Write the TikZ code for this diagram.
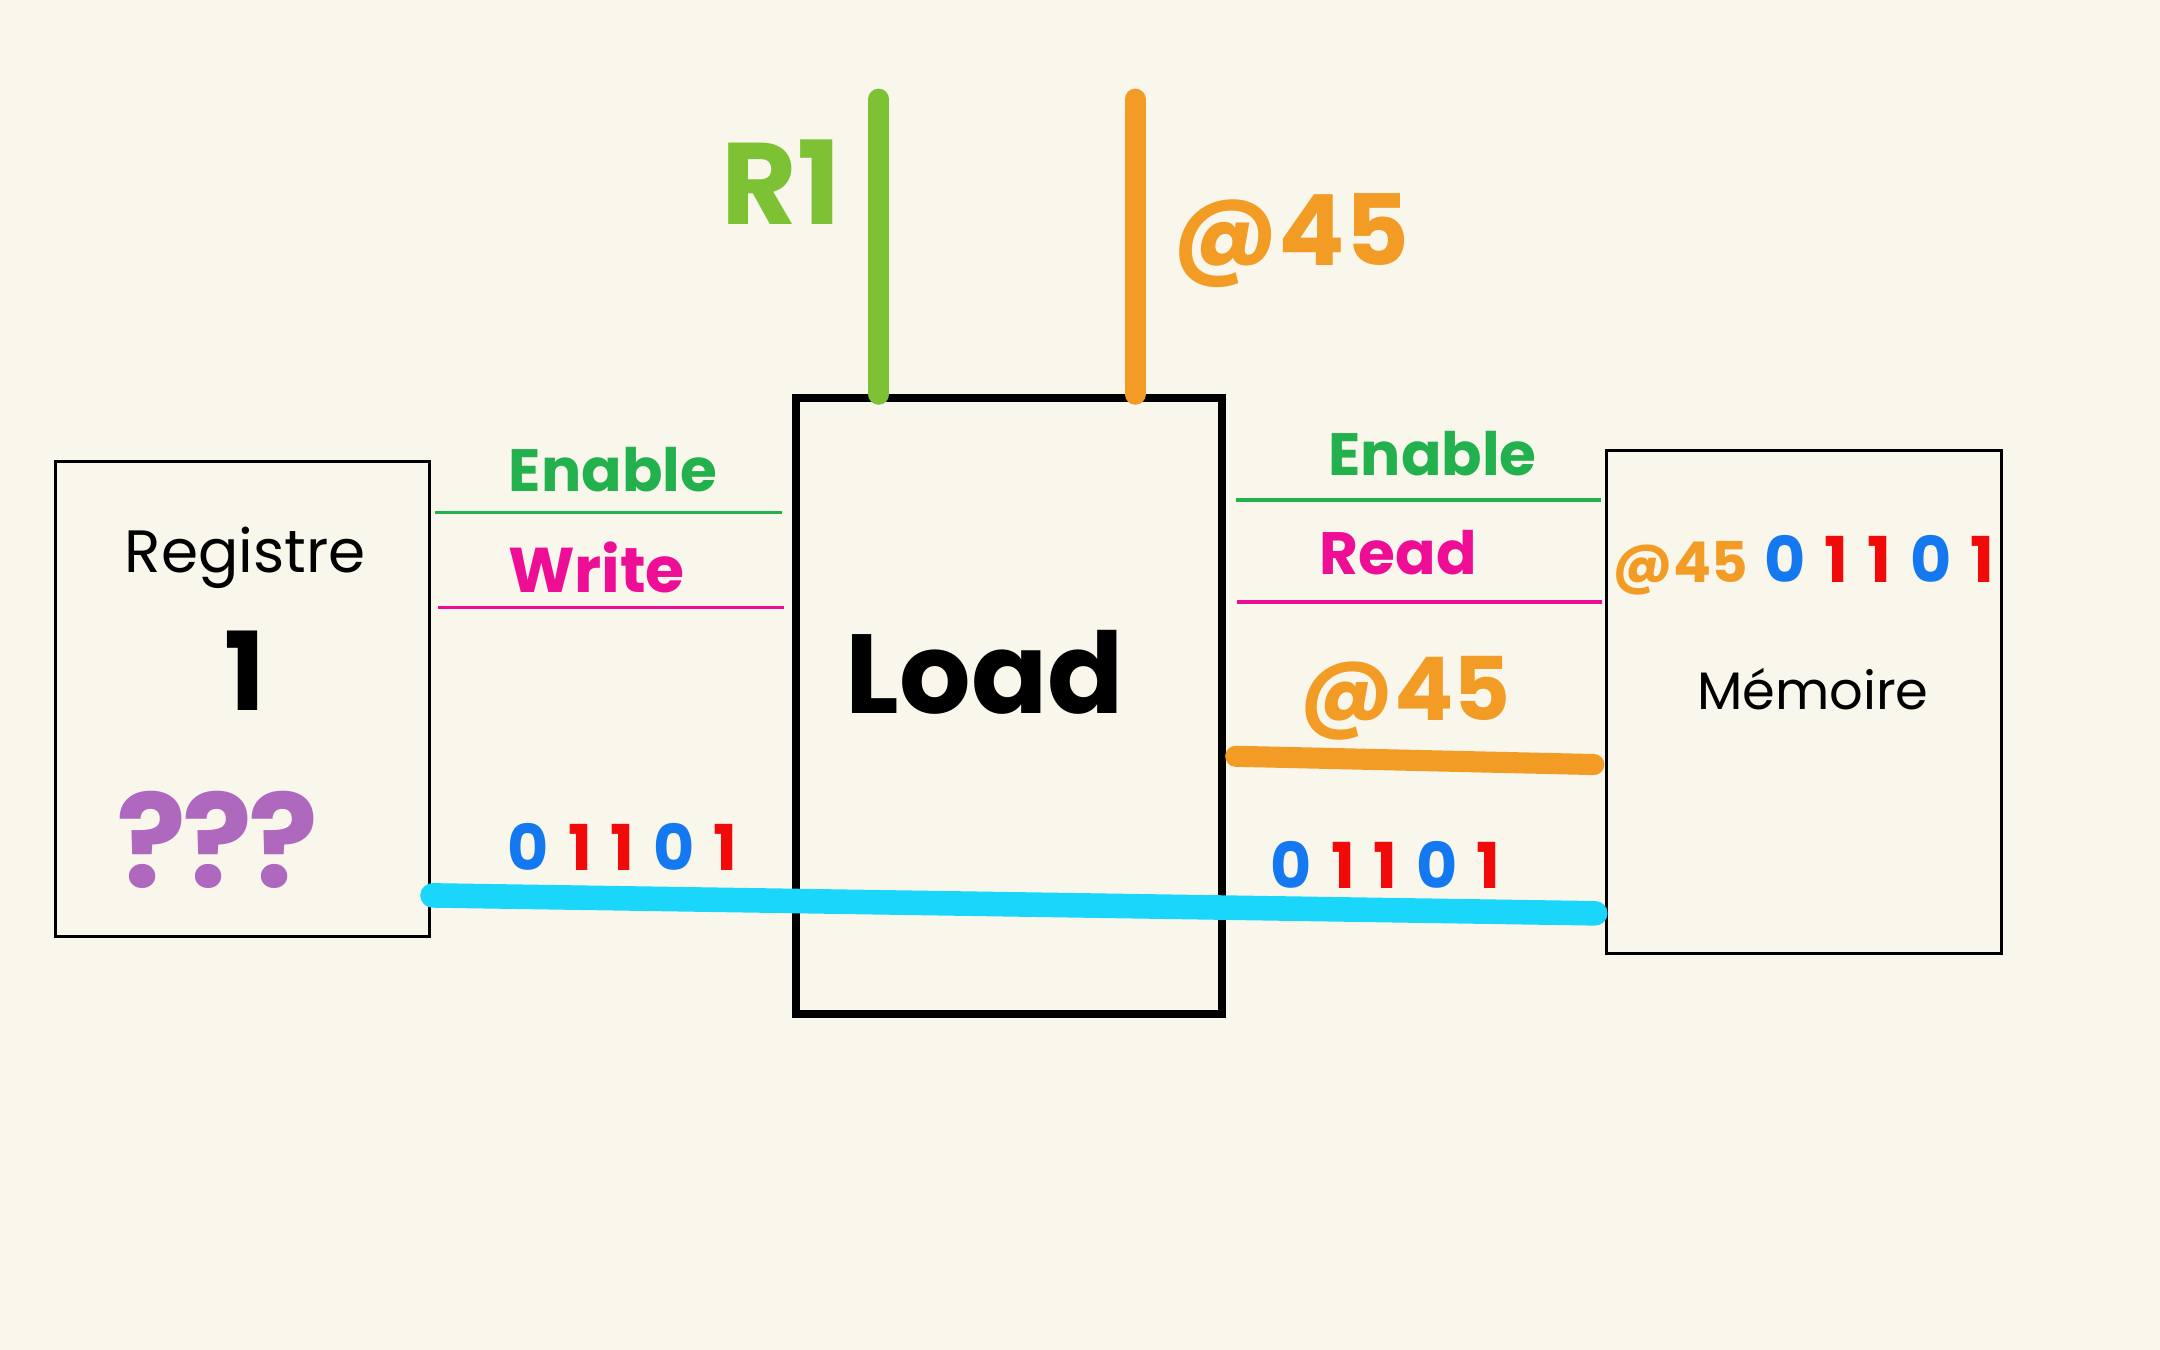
\documentclass[tikz,border=0pt]{standalone}
\usepackage{fontspec}
\setmainfont{Poppins}
\definecolor{bg}{HTML}{F9F7EC}
\definecolor{engreen}{HTML}{22B14C}
\definecolor{rgreen}{HTML}{7DC234}
\definecolor{orng}{HTML}{F29C26}
\definecolor{magn}{HTML}{EE0E95}
\definecolor{cyanl}{HTML}{1AD6FA}
\definecolor{bitblue}{HTML}{1479F0}
\definecolor{bitred}{HTML}{F20A0A}
\definecolor{purp}{HTML}{AE68BE}
\newcommand{\bits}{{\color{bitblue}0}\kern0.3em{\color{bitred}1}\kern0.3em{\color{bitred}1}\kern0.3em{\color{bitblue}0}\kern0.3em{\color{bitred}1}}
\begin{document}
\begin{tikzpicture}[x=0.013776cm,y=-0.013776cm,
  boxthin/.style={draw=black,line width=0.9pt},
  boxthick/.style={draw=black,line width=2.2pt},
  lbl/.style={inner sep=0pt,anchor=center},
  wire/.style={line width=1.1pt},
  bus/.style={line width=6pt,line cap=round}]
\fill[bg] (0,0) rectangle (1568,980);
\useasboundingbox (0,0) rectangle (1568,980);
% boxes
\node[boxthin,minimum width=272*0.013776cm,minimum height=345*0.013776cm,inner sep=0pt] (reg) at (176,507.5) {};
\node[boxthick,minimum width=309*0.013776cm,minimum height=447*0.013776cm,inner sep=0pt] (load) at (732.5,512.5) {};
\node[boxthin,minimum width=287*0.013776cm,minimum height=365*0.013776cm,inner sep=0pt] (mem) at (1309.5,509.5) {};
% box texts
\node[lbl,font=\fontsize{17}{20}\selectfont] (tReg) at (178,405) {Registre};
\node[lbl,font=\fontsize{31}{40}\selectfont\bfseries] (tOne) at (178,487) {1};
\node[lbl,font=\fontsize{37}{44}\selectfont\bfseries,text=purp] (tQ) at (158,610) {?\kern-0.03em?\kern-0.03em?};
\node[lbl,font=\fontsize{32}{38}\selectfont\bfseries] (tLoad) at (715,488) {Load};
\node[lbl,font=\fontsize{15}{18}\selectfont] (tMem) at (1316,500) {Mémoire};
\node[lbl,font=\fontsize{16}{20}\selectfont\bfseries] (tMemBits) at (1309,410) {{\color{orng}@45}\kern0.3em{\fontsize{18}{20}\selectfont\bits}};
% top buses
\coordinate (gTop) at (638,72);
\coordinate (oTop) at (824,72);
\draw[bus,rgreen] (gTop) -- (gTop |- load.north);
\draw[bus,orng] (oTop) -- (oTop |- load.north);
\node[lbl,font=\fontsize{33}{38}\selectfont\bfseries,text=rgreen] (tR1) at (567,132) {R1};
\node[lbl,font=\fontsize{28}{34}\selectfont\bfseries,text=orng] (tA1) at (937,175) {@45};
% left signals
\coordinate (lEnA) at (316,372); \coordinate (lEnB) at (568,372);
\coordinate (lWrA) at (318,441); \coordinate (lWrB) at (569,441);
\draw[wire,engreen] (lEnA) -- (lEnB);
\draw[wire,magn] (lWrA) -- (lWrB);
\node[lbl,font=\fontsize{17}{22}\selectfont\bfseries,text=engreen] (tEnL) at (445,341) {Enable};
\node[lbl,font=\fontsize{18}{22}\selectfont\bfseries,text=magn] (tWr) at (433,412) {Write};
\node[lbl,font=\fontsize{18}{24}\selectfont\bfseries] (tBitsL) at (452,615) {\bits};
% right signals
\coordinate (rEnA) at (897,363); \coordinate (rEnB) at (1162,363);
\coordinate (rRdA) at (898,437); \coordinate (rRdB) at (1163,437);
\draw[wire,engreen] (rEnA) -- (rEnB);
\draw[wire,magn] (rRdA) -- (rRdB);
\node[lbl,font=\fontsize{17}{22}\selectfont\bfseries,text=engreen] (tEnR) at (1040,329) {Enable};
\node[lbl,font=\fontsize{17}{22}\selectfont\bfseries,text=magn] (tRd) at (1015,401) {Read};
\node[lbl,font=\fontsize{25}{30}\selectfont\bfseries,text=orng] (tA2) at (1020,507) {@45};
\node[lbl,font=\fontsize{18}{24}\selectfont\bfseries] (tBitsR) at (1006,628) {\bits};
\coordinate (oA) at (897,549); \coordinate (oB) at (1157,555);
\draw[bus,orng] (oA) -- (oB);
% data bus
\coordinate (cA) at (314,650); \coordinate (cB) at (1158,663);
\draw[bus,cyanl,line width=7pt] (cA) -- (cB);
\end{tikzpicture}
\end{document}
